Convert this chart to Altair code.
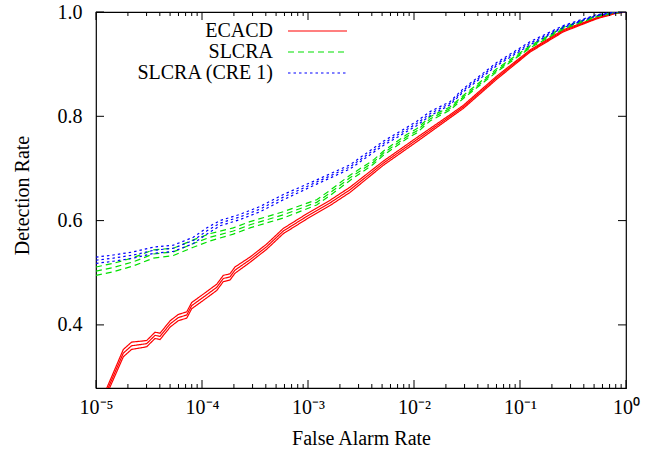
import altair as alt
import pandas as pd

# ---------------- data ----------------
series_names = ["ECACD", "SLCRA", "SLCRA (CRE 1)"]

# log10(False Alarm Rate) positions and detection rates
ecacd_logfar = [-4.90, -4.742, -4.664, -4.522, -4.443, -4.396, -4.30, -4.224, -4.144, -4.097,
                -3.988, -3.861, -3.799, -3.736, -3.689, -3.547, -3.390, -3.233, -3.012, -2.792,
                -2.604, -2.29, -1.975, -1.66, -1.535, -1.22, -0.906, -0.591, -0.276, -0.10, 0.0]
ecacd_dr = [0.272, 0.346, 0.360, 0.364, 0.380, 0.378, 0.402, 0.414, 0.419, 0.437,
            0.453, 0.472, 0.489, 0.492, 0.505, 0.525, 0.550, 0.580, 0.608, 0.634,
            0.659, 0.710, 0.755, 0.800, 0.818, 0.874, 0.925, 0.964, 0.988, 0.998, 1.0]
ecacd_spread = [0.006, 0.007, 0.007, 0.006, 0.006, 0.006, 0.006, 0.006, 0.006, 0.006,
                0.006, 0.006, 0.006, 0.006, 0.006, 0.005, 0.005, 0.005, 0.005, 0.005,
                0.005, 0.004, 0.004, 0.003, 0.003, 0.003, 0.002, 0.002, 0.001, 0.001, 0.0]

slcra_logfar = [-5.0, -4.837, -4.648, -4.459, -4.27, -4.082, -3.925, -3.705, -3.547, -3.233,
                -2.918, -2.80, -2.604, -2.384, -2.29, -2.069, -1.975, -1.849, -1.66, -1.535,
                -1.22, -0.906, -0.591, -0.276, -0.10, 0.0]
slcra_dr = [0.503, 0.510, 0.521, 0.536, 0.540, 0.556, 0.568, 0.580, 0.592, 0.611,
            0.635, 0.652, 0.682, 0.712, 0.729, 0.761, 0.772, 0.795, 0.815, 0.837,
            0.888, 0.933, 0.969, 0.992, 0.999, 1.0]
slcra_spread = [0.008, 0.008, 0.008, 0.008, 0.007, 0.007, 0.007, 0.006, 0.006, 0.006,
                0.005, 0.005, 0.005, 0.004, 0.004, 0.004, 0.004, 0.004, 0.003, 0.003,
                0.003, 0.002, 0.002, 0.001, 0.001, 0.0]

cre_logfar = [-5.0, -4.837, -4.648, -4.459, -4.27, -4.082, -3.956, -3.83, -3.642, -3.453,
              -3.233, -2.918, -2.604, -2.29, -1.975, -1.849, -1.66, -1.535, -1.22, -0.906,
              -0.591, -0.276, -0.10, 0.0]
cre_dr = [0.524, 0.528, 0.534, 0.543, 0.547, 0.562, 0.580, 0.595, 0.607, 0.622,
          0.645, 0.674, 0.703, 0.748, 0.786, 0.805, 0.825, 0.850, 0.900, 0.940,
          0.972, 0.994, 0.999, 1.0]
cre_spread = [0.006, 0.006, 0.006, 0.006, 0.006, 0.006, 0.006, 0.005, 0.005, 0.005,
              0.005, 0.004, 0.004, 0.004, 0.004, 0.004, 0.003, 0.003, 0.003, 0.003,
              0.002, 0.001, 0.001, 0.0]

x_tick_values = [1e-5, 1e-4, 1e-3, 1e-2, 1e-1, 1.0]
x_tick_labels = ["10⁻⁵", "10⁻⁴", "10⁻³", "10⁻²", "10⁻¹", "10⁰"]
x_minor_mult = [2, 3, 4, 5, 6, 7, 8, 9]
y_tick_values = [0.4, 0.6, 0.8, 1.0]

colors = ["#ff0000", "#00e000", "#0000ff"]
dashes = [[1, 0], [6, 4], [2.5, 3]]

# ---------------- build tables ----------------
rows = []
for name, xs_, ys_, sp_ in [
    (series_names[0], ecacd_logfar, ecacd_dr, ecacd_spread),
    (series_names[1], slcra_logfar, slcra_dr, slcra_spread),
    (series_names[2], cre_logfar, cre_dr, cre_spread),
]:
    for band, sign in [("lo", -1), ("mid", 0), ("hi", 1)]:
        for lx, y, s in zip(xs_, ys_, sp_):
            rows.append({"series": name, "band": band, "far": 10 ** lx, "dr": y + sign * s})
df = pd.DataFrame(rows)

major_df = pd.DataFrame({"v": x_tick_values})
minor_df = pd.DataFrame({"v": [m * d for d in x_tick_values[:-1] for m in x_minor_mult]})
ytick_df = pd.DataFrame({"v": y_tick_values})

W, H = 530, 376
FONT = "Liberation Serif"

xscale = alt.Scale(type="log", domain=[1e-5, 1.0], nice=False)
yscale = alt.Scale(domain=[0.279, 1.0], nice=False, zero=False)

label_arr = "[" + ",".join("'" + t + "'" for t in x_tick_labels) + "]"
xaxis = alt.Axis(
    values=x_tick_values,
    labelExpr=label_arr + "[round(log(datum.value)/LN10)+5]",
    labelFlush=False, labelOverlap=False, labelPadding=9,
    title="False Alarm Rate", titleY=50, titleBaseline="middle",
)
yaxis = alt.Axis(
    values=y_tick_values, format=".1f", labelPadding=14,
    title="Detection Rate", titleX=-74, titleY=183, titleBaseline="middle",
)

X = lambda f: alt.X(f, scale=xscale, axis=xaxis, title="False Alarm Rate")
Y = lambda f: alt.Y(f, scale=yscale, axis=yaxis, title="Detection Rate")

layers = []
for name, c, d in zip(series_names, colors, dashes):
    layers.append(
        alt.Chart(df[df.series == name]).mark_line(
            color=c, strokeWidth=1.2, strokeDash=d, clip=True
        ).encode(x=X("far:Q"), y=Y("dr:Q"), detail="band:N", order=alt.Order("far:Q"))
    )

# inward tick marks on all four sides
for y0, y1, src in [(H, H - 8, major_df), (H, H - 4, minor_df), (0, 8, major_df), (0, 4, minor_df)]:
    layers.append(
        alt.Chart(src).mark_rule(color="black", strokeWidth=1).encode(
            x=X("v:Q"), y=alt.value(y0), y2=alt.value(y1)
        )
    )
for x0, x1 in [(0, 8), (W, W - 8)]:
    layers.append(
        alt.Chart(ytick_df).mark_rule(color="black", strokeWidth=1).encode(
            y=Y("v:Q"), x=alt.value(x0), x2=alt.value(x1)
        )
    )

# legend (text on the left, line sample on the right)
for i, (name, c, d) in enumerate(zip(series_names, colors, dashes)):
    ly = 19 + 21 * i
    layers.append(
        alt.Chart(pd.DataFrame({"t": [name]})).mark_text(
            align="right", baseline="middle", font=FONT, fontSize=20, color="black"
        ).encode(text="t:N", x=alt.value(177), y=alt.value(ly))
    )
    layers.append(
        alt.Chart(pd.DataFrame({"t": [name]})).mark_rule(
            color=c, strokeWidth=1.2, strokeDash=d
        ).encode(x=alt.value(192), x2=alt.value(251), y=alt.value(ly))
    )

chart = alt.layer(*layers).properties(
    width=W, height=H,
    background="white",
    autosize=alt.AutoSizeParams(type="none"),
    padding={"left": 96, "top": 12, "right": 26, "bottom": 63},
).configure_view(
    stroke="black", strokeWidth=1.2
).configure_axis(
    labelFont=FONT, labelFontSize=20, labelColor="black",
    titleFont=FONT, titleFontSize=20, titleFontWeight="normal", titleColor="black",
    domain=False, ticks=False, grid=False,
)

chart.save("out.html", embed_options={"renderer": "svg", "actions": False})
